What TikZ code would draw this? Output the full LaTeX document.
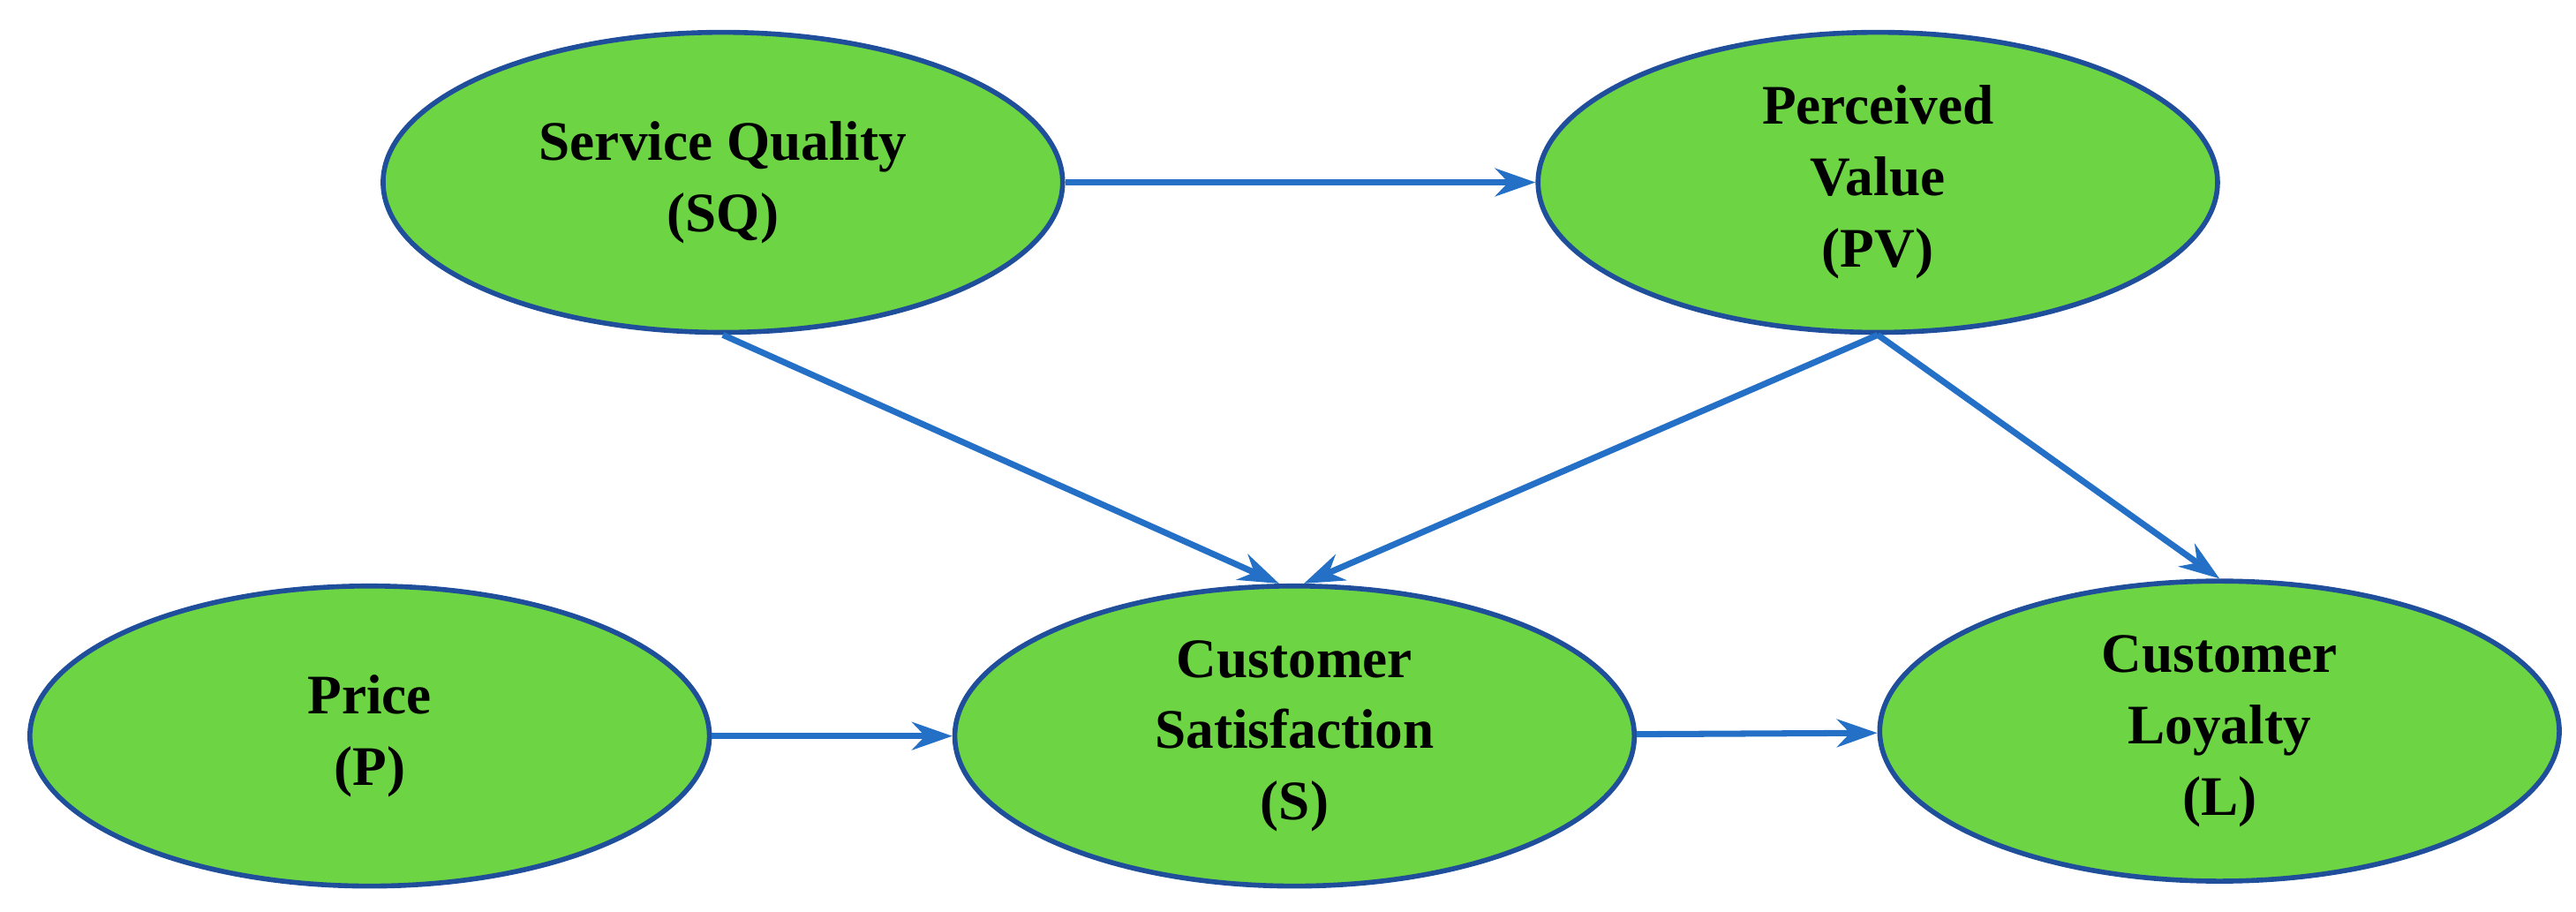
\documentclass[tikz,border=0pt]{standalone}
\usepackage{fontspec}
\setmainfont{Liberation Serif}
\usetikzlibrary{shapes.geometric,arrows.meta}
\definecolor{fillg}{HTML}{6DD444}
\definecolor{bordb}{HTML}{1F4E9A}
\definecolor{arrb}{HTML}{2470C6}
\begin{document}
\begin{tikzpicture}[x=0.01861cm,y=-0.01861cm,
  var/.style={ellipse,draw=bordb,line width=1.6pt,fill=fillg,minimum width=7.7cm,minimum height=3.4cm,inner sep=0pt,align=center,font=\fontsize{18}{23}\selectfont\bfseries},
  arr/.style={draw=arrb,line width=2pt,-{Stealth[length=13pt,width=9pt]}}]
\useasboundingbox (0,0) rectangle (1568,555);
\node[var] (SQ) at (440,111) {Service Quality\\(SQ)};
\node[var] (PV) at (1143,111) {Perceived\\Value\\(PV)};
\node[var] (P) at (225,448) {Price\\(P)};
\node[var] (S) at (788,448) {Customer\\Satisfaction\\(S)};
\node[var] (L) at (1351,445) {Customer\\Loyalty\\(L)};
\draw[arr] (SQ) -- (PV);
\draw[arr] (P) -- (S);
\draw[arr] (S) -- (L);
\draw[arr] (SQ.south) -- ([xshift=-5]S.north);
\draw[arr] (PV.south) -- ([xshift=3]S.north);
\draw[arr] (PV.south) -- (L.north);
\end{tikzpicture}
\end{document}
